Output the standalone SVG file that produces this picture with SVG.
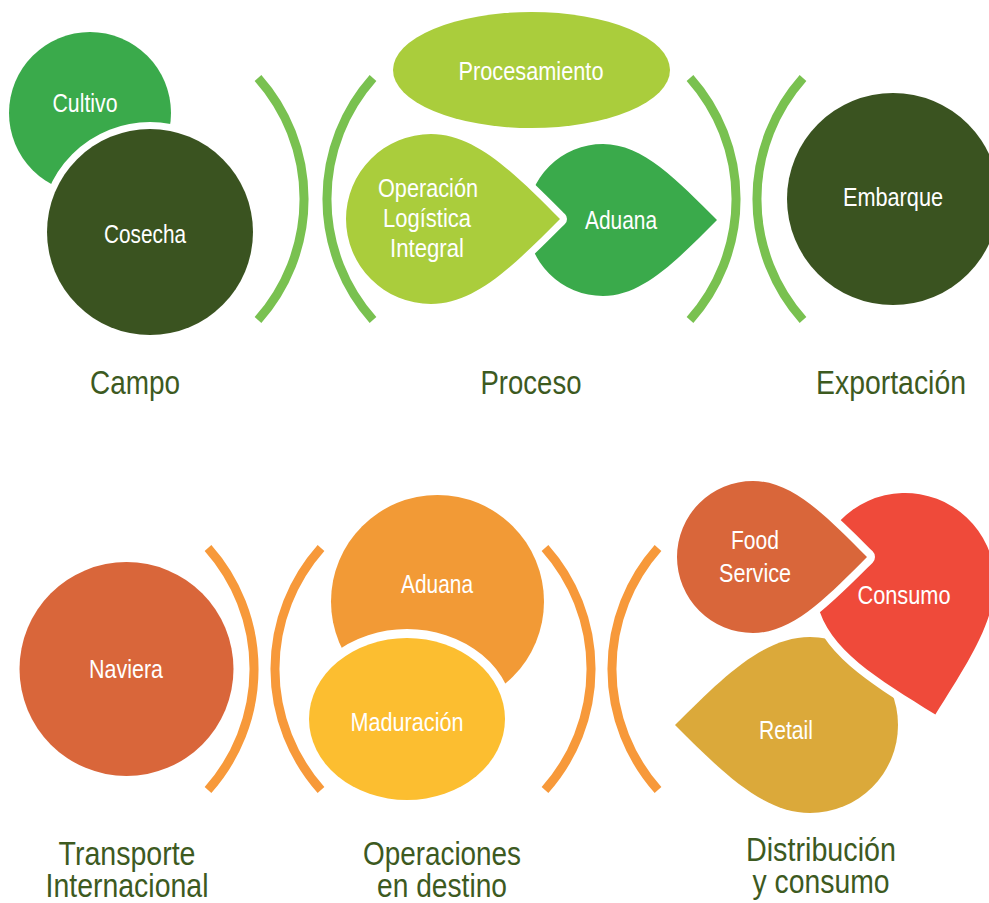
<svg xmlns="http://www.w3.org/2000/svg" width="989" height="903" viewBox="0 0 989 903">
  <style>
    .node { font-family: "Liberation Sans", Arial, sans-serif; font-size: 26px; fill: #ffffff; text-anchor: middle; }
    .stage { font-family: "Liberation Sans", Arial, sans-serif; font-size: 34px; fill: #3d5a1f; text-anchor: middle; }
    .stage2 { font-family: "Liberation Sans", Arial, sans-serif; font-size: 33px; fill: #3d5a1f; text-anchor: middle; }
    .arc-g { fill: none; stroke: #79c150; stroke-width: 9; }
    .arc-o { fill: none; stroke: #f7993a; stroke-width: 9; }
    .halo { stroke: #ffffff; paint-order: stroke; stroke-linejoin: round; }
  </style>
  <rect width="989" height="903" fill="#ffffff"/>

  <!-- bracket arcs separating the stages -->
  <g id="connectors">
    <path class="arc-g" d="M258,78 A182,182 0 0 1 258,320"/>
    <path class="arc-g" d="M373,78 A182,182 0 0 0 373,320"/>
    <path class="arc-g" d="M690,78 A182,182 0 0 1 690,320"/>
    <path class="arc-g" d="M803,78 A182,182 0 0 0 803,320"/>
    <path class="arc-o" d="M208,548 A182,182 0 0 1 208,790"/>
    <path class="arc-o" d="M321,548 A182,182 0 0 0 321,790"/>
    <path class="arc-o" d="M545,548 A182,182 0 0 1 545,790"/>
    <path class="arc-o" d="M658,548 A182,182 0 0 0 658,790"/>
  </g>

  <!-- Campo -->
  <g id="cultivo">
    <circle cx="90" cy="113" r="81" fill="#3aaa4b"/>
    <text class="node" x="85" y="112" textLength="65" lengthAdjust="spacingAndGlyphs">Cultivo</text>
  </g>
  <g id="cosecha">
    <circle class="halo" cx="150" cy="232" r="103" fill="#3a5320" stroke-width="14"/>
    <text class="node" x="145" y="243" textLength="82" lengthAdjust="spacingAndGlyphs">Cosecha</text>
  </g>

  <!-- Proceso -->
  <g id="aduana-origen">
    <path transform="translate(603,220)" fill="#3aaa4b" d="M114,0 C74,-40 40,-76 0,-76 A76,76 0 0 0 0,76 C40,76 74,40 114,0 Z"/>
    <text class="node" x="621" y="229" textLength="72" lengthAdjust="spacingAndGlyphs">Aduana</text>
  </g>
  <g id="operacion-logistica">
    <path class="halo" transform="translate(431,219)" fill="#aacd3c" stroke-width="14" d="M129,0 C84,-45 45,-85 0,-85 A85,85 0 0 0 0,85 C45,85 84,45 129,0 Z"/>
    <text class="node"><tspan x="428" y="197" textLength="100" lengthAdjust="spacingAndGlyphs">Operación</tspan><tspan x="427" y="227" textLength="88" lengthAdjust="spacingAndGlyphs">Logística</tspan><tspan x="427" y="257" textLength="74" lengthAdjust="spacingAndGlyphs">Integral</tspan></text>
  </g>
  <g id="procesamiento">
    <ellipse cx="531.5" cy="70" rx="138.5" ry="58" fill="#aacd3c"/>
    <text class="node" x="531" y="80" textLength="145" lengthAdjust="spacingAndGlyphs">Procesamiento</text>
  </g>

  <!-- Exportación -->
  <g id="embarque">
    <circle cx="893" cy="199" r="106" fill="#3a5320"/>
    <text class="node" x="893" y="206" textLength="100" lengthAdjust="spacingAndGlyphs">Embarque</text>
  </g>

  <!-- Transporte internacional -->
  <g id="naviera">
    <circle cx="126.5" cy="669" r="107" fill="#d9663a"/>
    <text class="node" x="126" y="678" textLength="74" lengthAdjust="spacingAndGlyphs">Naviera</text>
  </g>

  <!-- Operaciones en destino -->
  <g id="aduana-destino">
    <circle cx="437.5" cy="601.5" r="106.5" fill="#f29a36"/>
    <text class="node" x="437" y="593" textLength="72" lengthAdjust="spacingAndGlyphs">Aduana</text>
  </g>
  <g id="maduracion">
    <ellipse class="halo" cx="407" cy="719" rx="98" ry="81" fill="#fcbe30" stroke-width="18"/>
    <text class="node" x="407" y="731" textLength="113" lengthAdjust="spacingAndGlyphs">Maduración</text>
  </g>

  <!-- Distribución y consumo -->
  <g id="retail">
    <path transform="translate(810,725) rotate(180)" fill="#dba93a" d="M135,0 C88,-47 47,-88 0,-88 A88,88 0 0 0 0,88 C47,88 88,47 135,0 Z"/>
    <text class="node" x="786" y="739" textLength="54" lengthAdjust="spacingAndGlyphs">Retail</text>
  </g>
  <g id="consumo">
    <path class="halo" transform="translate(905,583) rotate(77)" fill="#ef4a3a" stroke-width="16" d="M135,0 C87,-48 48,-90 0,-90 A90,90 0 0 0 0,90 C48,90 87,48 135,0 Z"/>
    <text class="node" x="904" y="604" textLength="93" lengthAdjust="spacingAndGlyphs">Consumo</text>
  </g>
  <g id="food-service">
    <path class="halo" transform="translate(753,557)" fill="#d9663a" stroke-width="16" d="M114,0 C74,-40 40,-76 0,-76 A76,76 0 0 0 0,76 C40,76 74,40 114,0 Z"/>
    <text class="node"><tspan x="755" y="549" textLength="48" lengthAdjust="spacingAndGlyphs">Food</tspan><tspan x="755" y="582" textLength="72" lengthAdjust="spacingAndGlyphs">Service</tspan></text>
  </g>

  <!-- stage labels -->
  <g id="labels">
    <text class="stage" x="135" y="394" textLength="90" lengthAdjust="spacingAndGlyphs">Campo</text>
    <text class="stage" x="531" y="394" textLength="101" lengthAdjust="spacingAndGlyphs">Proceso</text>
    <text class="stage" x="891" y="394" textLength="150" lengthAdjust="spacingAndGlyphs">Exportación</text>
    <text class="stage2"><tspan x="127" y="865" textLength="137" lengthAdjust="spacingAndGlyphs">Transporte</tspan><tspan x="127" y="897" textLength="163" lengthAdjust="spacingAndGlyphs">Internacional</tspan></text>
    <text class="stage2"><tspan x="442" y="865" textLength="158" lengthAdjust="spacingAndGlyphs">Operaciones</tspan><tspan x="442" y="897" textLength="130" lengthAdjust="spacingAndGlyphs">en destino</tspan></text>
    <text class="stage2"><tspan x="821" y="861" textLength="150" lengthAdjust="spacingAndGlyphs">Distribución</tspan><tspan x="821" y="893" textLength="137" lengthAdjust="spacingAndGlyphs">y consumo</tspan></text>
  </g>
</svg>
